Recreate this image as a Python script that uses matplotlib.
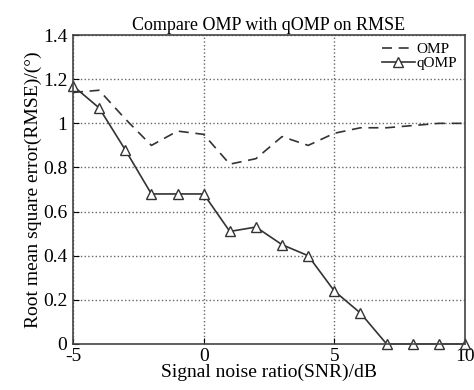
import numpy as np
import matplotlib
matplotlib.use("Agg")
import matplotlib.pyplot as plt

plt.rcParams['font.family'] = ['Liberation Serif', 'DejaVu Serif']
plt.rcParams['axes.unicode_minus'] = False

# data
snr = [-5, -4, -3, -2, -1, 0, 1, 2, 3, 4, 5, 6, 7, 8, 9, 10]
rmse_omp = [1.14, 1.15, 1.02, 0.90, 0.965, 0.95, 0.815, 0.84, 0.94, 0.90, 0.955, 0.98, 0.98, 0.99, 1.0, 1.0]
rmse_qomp = [1.17, 1.07, 0.88, 0.68, 0.68, 0.68, 0.51, 0.53, 0.45, 0.40, 0.24, 0.14, 0.0, 0.0, 0.0, 0.0]
yticks = [0, 0.2, 0.4, 0.6, 0.8, 1, 1.2, 1.4]
ytick_labels = ['0', '0.2', '0.4', '0.6', '0.8', '1', '1.2', '1.4']
xticks = [-5, 0, 5, 10]

fig = plt.figure(figsize=(4.74, 3.9), dpi=100)
ax = fig.add_axes([0.154, 0.118, 0.827, 0.792])

ax.plot(snr, rmse_omp, color='#333333', linestyle=(0, (6, 4)), linewidth=1.2, label='OMP')
ax.plot(snr, rmse_qomp, color='#333333', linewidth=1.2, marker='^', markersize=6.5,
        markerfacecolor='white', markeredgecolor='#333333', markeredgewidth=1.0,
        label='qOMP', clip_on=False)

ax.set_xlim(-5, 10)
ax.set_ylim(0, 1.4)
ax.set_xticks(xticks)
ax.set_yticks(yticks)
ax.set_yticklabels(ytick_labels)
ax.grid(True, linestyle=':', color='#666666', linewidth=1.0)
ax.tick_params(direction='in', labelsize=14, length=4)
ax.tick_params(axis='x', pad=3)
ax.tick_params(axis='y', pad=4)
for s in ax.spines.values():
    s.set_linewidth(1.2)
    s.set_color('#444444')

ax.set_title('Compare OMP with qOMP on RMSE', fontsize=13, pad=4)
ax.set_xlabel('Signal noise ratio(SNR)/dB', fontsize=14, labelpad=-1)
ax.set_ylabel('Root mean square error(RMSE)/(°)', fontsize=14, labelpad=1)

leg = ax.legend(loc='upper right', frameon=False, fontsize=11, handlelength=2.2,
                handletextpad=0.1, borderpad=0.2, labelspacing=0.0, borderaxespad=0.3)

fig.savefig('out.png', dpi=100)
